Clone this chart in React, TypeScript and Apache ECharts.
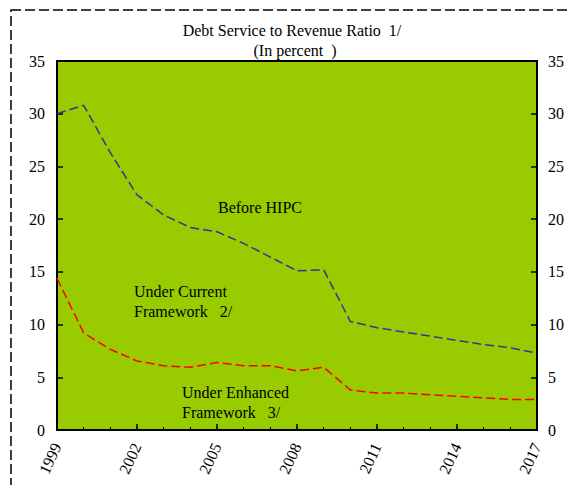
import React, { useEffect, useRef } from "react";
import * as echarts from "echarts";

const years = [
  "1999", "2000", "2001", "2002", "2003", "2004", "2005", "2006", "2007", "2008",
  "2009", "2010", "2011", "2012", "2013", "2014", "2015", "2016", "2017",
];

// Ratio before HIPC assistance (percent)
const beforeHipc = [
  30.0, 30.8, 26.3, 22.3, 20.4, 19.2, 18.8, 17.7, 16.4, 15.1,
  15.2, 10.3, 9.7, 9.3, 8.9, 8.5, 8.1, 7.8, 7.3,
];

// Ratio under the enhanced framework (percent)
const underEnhanced = [
  14.4, 9.2, 7.65, 6.55, 6.1, 5.95, 6.4, 6.1, 6.1, 5.6,
  5.95, 3.8, 3.5, 3.5, 3.35, 3.2, 3.05, 2.9, 2.9,
];

const yTicks = { min: 0, max: 35, interval: 5 };

const FONT = "'Liberation Serif', 'Times New Roman', serif";

export default function App() {
  const ref = useRef<HTMLDivElement>(null);

  useEffect(() => {
    if (!ref.current) return;
    const chart = echarts.init(ref.current, null, { renderer: "svg" });

    const label = (text: string, x: number, y: number, align = "left") => ({
      type: "text",
      x,
      y,
      style: {
        text,
        fill: "#000",
        fontFamily: FONT,
        fontSize: 16,
        align,
        verticalAlign: "middle",
      },
      z: 10,
    });

    const yAxisBase = {
      type: "value",
      min: yTicks.min,
      max: yTicks.max,
      interval: yTicks.interval,
      splitLine: { show: false },
      axisLine: { show: true, lineStyle: { color: "#000", width: 2 } },
      axisTick: { show: true, inside: true, length: 6, lineStyle: { color: "#000", width: 1.5 } },
      axisLabel: { color: "#000", fontFamily: FONT, fontSize: 16, margin: 12 },
    };

    chart.setOption({
      animation: false,
      textStyle: { fontFamily: FONT },
      grid: {
        left: 57,
        right: 31,
        top: 61,
        bottom: 55,
        show: true,
        backgroundColor: "#99CC00",
        borderColor: "#000",
        borderWidth: 2,
      },
      xAxis: [
        {
          type: "category",
          data: years,
          boundaryGap: false,
          axisLine: { show: true, lineStyle: { color: "#000", width: 2 } },
          axisTick: { show: true, inside: true, interval: 0, length: 3, lineStyle: { color: "#000", width: 1 } },
          axisLabel: {
            interval: 2,
            rotate: 65,
            color: "#000",
            fontFamily: FONT,
            fontSize: 16,
            margin: 14,
          },
          splitLine: { show: false },
        },
        {
          type: "category",
          data: years,
          boundaryGap: false,
          position: "bottom",
          axisLine: { show: false },
          axisTick: { show: true, inside: true, interval: 2, length: 6, lineStyle: { color: "#000", width: 1.5 } },
          axisLabel: { show: false },
          splitLine: { show: false },
        },
      ],
      yAxis: [
        { ...yAxisBase, position: "left" },
        { ...yAxisBase, position: "right", axisLabel: { ...yAxisBase.axisLabel, margin: 11 } },
      ],
      series: [
        {
          name: "Before HIPC",
          type: "line",
          data: beforeHipc,
          symbol: "none",
          lineStyle: { color: "#333399", width: 1.5, type: [9, 4] },
        },
        {
          name: "Under Enhanced Framework",
          type: "line",
          data: underEnhanced,
          symbol: "none",
          lineStyle: { color: "#FF0000", width: 1.5, type: [9, 4] },
        },
      ],
      graphic: [
        {
          type: "rect",
          shape: { x: 11, y: 10, width: 600, height: 500 },
          style: { fill: "none", stroke: "#000", lineWidth: 1.5, lineDash: [10, 4] },
          z: 0,
        },
        label("Debt Service to Revenue Ratio  1/", 292, 30, "center"),
        label("(In percent  )", 295, 50, "center"),
        label("Before HIPC", 218, 207),
        label("Under Current", 134, 291),
        label("Framework   2/", 134, 311),
        label("Under Enhanced", 182, 392),
        label("Framework   3/", 182, 412),
      ],
    });

    return () => chart.dispose();
  }, []);

  return (
    <div
      ref={ref}
      style={{ position: "fixed", left: 0, top: 0, width: 568, height: 485, background: "#fff" }}
    />
  );
}
